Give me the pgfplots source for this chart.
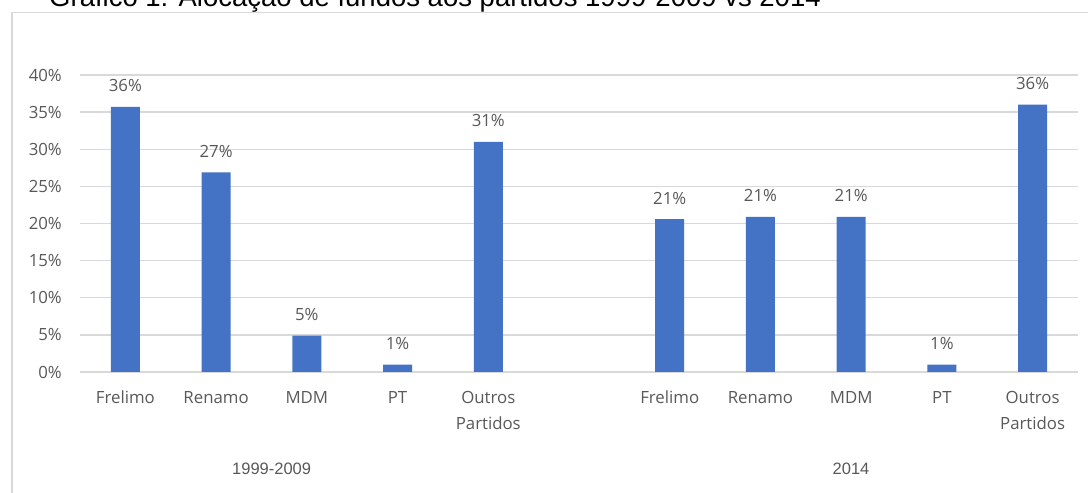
\documentclass[border=0pt]{standalone}
\usepackage{pgfplots}
\pgfplotsset{compat=1.18}
\usepackage{fontspec}
\setmainfont{Open Sans}
\newfontfamily\arial{Liberation Sans}
\definecolor{barc}{HTML}{4472C4}
\definecolor{gridc}{HTML}{D9D9D9}
\definecolor{txt}{HTML}{595959}
\begin{document}
\begin{tikzpicture}
\useasboundingbox (0pt,0pt) rectangle (1088pt,493pt);
\clip (0pt,0pt) rectangle (1088pt,493pt);
\fill[white] (0pt,0pt) rectangle (1088pt,493pt);
\draw[gridc, line width=1.4pt] (12pt,-5pt) -- (12pt,480.7pt) -- (1100pt,480.7pt);
\node[anchor=base west, font=\arial\fontsize{27.5}{30}\selectfont, inner sep=0, text=black] at (49pt,486pt) {Gráfico 1: Alocação de fundos aos partidos 1999-2009 vs 2014};
\begin{axis}[
  at={(80pt,121pt)}, anchor=south west,
  width=998pt, height=297pt, scale only axis,
  xmin=-0.5, xmax=10.5, ymin=0, ymax=40,
  axis line style={draw=none},
  ytick={0,5,...,40},
  ymajorgrids, grid style={gridc, line width=1.3pt},
  major tick length=0,
  /pgf/number format/assume math mode=true,
  yticklabel={\pgfmathprintnumber{\tick}\%},
  yticklabel style={font=\fontsize{16.8}{18}\selectfont, text=txt, anchor=east, inner sep=0, xshift=-18pt},
  xtick={0,1,2,3,4,6,7,8,9,10},
  xticklabels={Frelimo,Renamo,MDM,PT,Outros\\Partidos,Frelimo,Renamo,MDM,PT,Outros\\Partidos},
  xticklabel style={font=\fontsize{16.8}{26}\selectfont, text=txt, align=center, anchor=north, inner sep=0, yshift=-19pt},
  ybar, bar width=29pt,
  nodes near coords={\pgfmathprintnumber[fixed,precision=0]{\pgfplotspointmeta}\%},
  nodes near coords style={font=\fontsize{16.8}{18}\selectfont, text=txt, anchor=base, inner sep=0, yshift=15pt},
  clip=false,
]
\addplot[fill=barc, draw=none] coordinates {
  (0,35.7) (1,26.9) (2,4.9) (3,1.0) (4,31.0)
  (6,20.6) (7,20.9) (8,20.9) (9,1.0) (10,36.0)
};
\end{axis}
\node[anchor=west, font=\arial\fontsize{16.5}{18}\selectfont, text=txt, inner sep=0] at (232pt,24pt) {1999-2009};
\node[font=\arial\fontsize{16.5}{18}\selectfont, text=txt, inner sep=0] at (851pt,24pt) {2014};
\end{tikzpicture}
\end{document}
